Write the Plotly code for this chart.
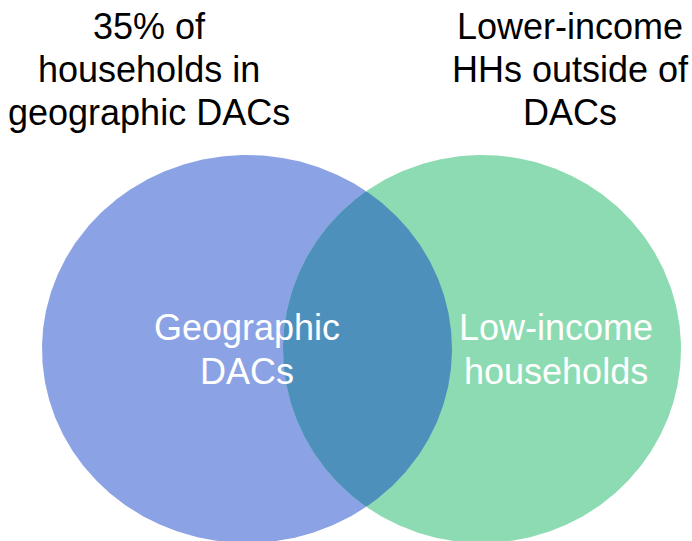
import numpy as np
import plotly.graph_objects as go

# Venn sets (pixel-space geometry of the diagram)
set_lines = [["Geographic", "DACs"], ["Low-income", "households"]]
center_x = [247, 482]
center_y = [349, 349]
radius_x = [205, 199]
radius_y = [194, 194]
set_colors = ["#8BA3E4", "#8DDBB2"]
overlap_color = "#4E90BC"

top_lines = [["35% of", "households in", "geographic DACs"],
             ["Lower-income", "HHs outside of", "DACs"]]
top_label_x = [149, 570]
top_line_y = [26, 69, 112]

label_x = [247, 556]
label_line_y = [327, 371]

W, H = 692, 541
t = np.linspace(0, 2 * np.pi, 721)


def ellipse(i):
    return (center_x[i] + radius_x[i] * np.cos(t),
            center_y[i] + radius_y[i] * np.sin(t))


def inside(i, x, y):
    return ((x - center_x[i]) / radius_x[i]) ** 2 + ((y - center_y[i]) / radius_y[i]) ** 2 <= 1


fig = go.Figure()
for i in range(2):
    x, y = ellipse(i)
    fig.add_trace(go.Scatter(x=x, y=y, mode="lines", fill="toself",
                             fillcolor=set_colors[i], line=dict(width=0),
                             hoverinfo="skip", showlegend=False))

# intersection region: arc of ellipse 0 inside ellipse 1, then arc of ellipse 1 inside ellipse 0
x0, y0 = ellipse(0)
x1, y1 = ellipse(1)
m0 = inside(1, x0, y0)
m1 = inside(0, x1, y1)
a0 = np.arctan2(y0[m0] - center_y[0], x0[m0] - center_x[0])
o0 = np.argsort(a0)
a1 = np.mod(np.arctan2(y1[m1] - center_y[1], x1[m1] - center_x[1]), 2 * np.pi)
o1 = np.argsort(a1)
ix = np.concatenate([x0[m0][o0], x1[m1][o1]])
iy = np.concatenate([y0[m0][o0], y1[m1][o1]])
fig.add_trace(go.Scatter(x=ix, y=iy, mode="lines", fill="toself",
                         fillcolor=overlap_color, line=dict(width=0),
                         hoverinfo="skip", showlegend=False))

for i in range(2):
    for j, txt in enumerate(set_lines[i]):
        fig.add_annotation(x=label_x[i], y=label_line_y[j], text=txt, showarrow=False,
                           font=dict(family="Liberation Sans, Arial", size=36, color="white"),
                           xanchor="center", yanchor="middle", align="center")

for i in range(2):
    for j, txt in enumerate(top_lines[i]):
        fig.add_annotation(x=top_label_x[i], y=top_line_y[j], text=txt, showarrow=False,
                           font=dict(family="Liberation Sans, Arial", size=36, color="black"),
                           xanchor="center", yanchor="middle", align="center")

fig.update_layout(width=W, height=H, margin=dict(l=0, r=0, t=0, b=0),
                  paper_bgcolor="white", plot_bgcolor="white",
                  xaxis=dict(range=[0, W], visible=False, fixedrange=True),
                  yaxis=dict(range=[H, 0], visible=False, fixedrange=True))
fig.write_html("out.html", config={"displayModeBar": False},
               post_script="document.body.style.margin='0';document.body.style.overflow='hidden';")
